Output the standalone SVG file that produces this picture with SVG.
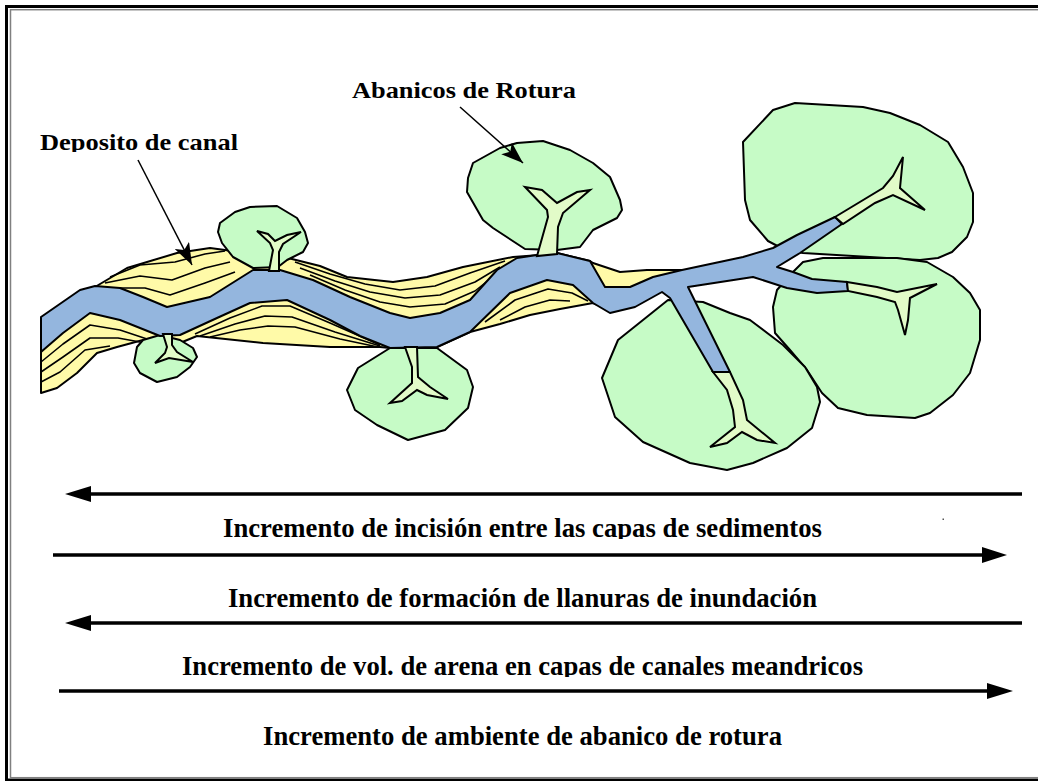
<svg xmlns="http://www.w3.org/2000/svg" width="1038" height="781" viewBox="0 0 1038 781">
<defs>
<style>
.fan{fill:#c6fbc6;stroke:#000;stroke-width:2;stroke-linejoin:round}
.dist{fill:#e2fbc8;stroke:#000;stroke-width:2;stroke-linejoin:miter}
.sand{fill:#fffaa8;stroke:#000;stroke-width:2;stroke-linejoin:round}
.layer{fill:none;stroke:#000;stroke-width:1.6;stroke-linejoin:round}
.chan{fill:#94b6de;stroke:#000;stroke-width:2;stroke-linejoin:round}
.lbl{font-family:"Liberation Serif","Times New Roman",serif;font-weight:bold;fill:#000}
.big{font-size:26.7px}
.small{font-size:24px}
.bar{stroke:#000;stroke-width:3.5;fill:none}
.lead{stroke:#000;stroke-width:1.5;fill:none}
.head{fill:#000}
</style>
<marker id="lhead" markerUnits="userSpaceOnUse" markerWidth="24" markerHeight="16" refX="22" refY="8" orient="auto">
<path d="M0,0 L22,8 L0,16 L5,8 Z" fill="#000"/>
</marker>
<clipPath id="c1"><rect x="0" y="500" width="1038" height="39"/></clipPath>
<clipPath id="c3"><rect x="0" y="640" width="1038" height="37"/></clipPath>
<clipPath id="c0"><rect x="0" y="120" width="400" height="32"/></clipPath>
</defs>

<g id="frame">
<rect x="6.5" y="6.5" width="1100" height="773.5" fill="none" stroke="#000" stroke-width="3"/>
<rect x="10.5" y="9.7" width="1100" height="768" fill="none" stroke="#808080" stroke-width="1.5"/>
<rect x="942.5" y="518.5" width="1.5" height="1.5" fill="#555"/>
</g>

<g id="deposito-canal">
<path class="sand" d="M95,287 L127,268 L177,253 L210,248 L240,252 L265,262 L288,258 L320,266 L347,277 L393,282 L427,277 L463,267 L513,257 L540,255 L557,253 L590,261 L593,263 L620,272 L647,270 L682,270 L690,282 L662,290 L640,300 L610,310 L593,303 L560,309 L530,315 L500,324 L470,332 L437,347 L390,348 L380,347 L330,347 L263,343 L197,336 L175,345 L160,345 L143,340 L117,347 L97,353 L77,373 L57,388 L41,393 L41,345 L90,300 Z"/>
<polyline class="layer" points="110,277 140,265 175,262 205,254 225,251"/>
<polyline class="layer" points="105,283 140,276 172,280 205,268 230,262"/>
<polyline class="layer" points="115,288 145,288 170,295 205,283 235,272"/>
<polyline class="layer" points="41,362 63,344 90,325 120,330 150,340"/>
<polyline class="layer" points="41,372 63,357 90,338 118,338 140,342"/>
<polyline class="layer" points="41,382 60,372 85,350 110,346"/>
<polyline class="layer" points="195,334 230,318 262,306 290,306 330,323 380,345"/>
<polyline class="layer" points="200,336 235,324 265,316 292,317 335,332 380,346"/>
<polyline class="layer" points="210,337 240,330 268,326 295,327 340,339 378,347"/>
<polyline class="layer" points="295,262 330,274 365,284 400,290 435,286 470,273 505,261"/>
<polyline class="layer" points="300,268 335,281 370,292 405,298 440,295 475,282 500,267"/>
<polyline class="layer" points="310,275 345,290 380,302 410,307 445,304 475,291 495,275"/>
<polyline class="layer" points="485,322 515,300 548,289 572,293 588,301"/>
<polyline class="layer" points="500,320 525,307 550,300 570,301"/>
</g>

<g id="abanico-f">
<path class="fan" d="M743,142 L773,110 L795,103 L863,107 L890,113 L920,125 L948,142 L963,167 L973,193 L973,222 L967,237 L952,252 L938,258 L920,260 L803,253 L785,250 L768,241 L750,220 L745,200 Z"/>
</g>
<g id="abanico-g">
<path class="fan" d="M790,275 L803,262 L823,258 L897,258 L927,262 L953,277 L970,293 L980,310 L980,340 L970,373 L953,395 L930,413 L915,418 L867,415 L838,408 L822,393 L807,370 L790,350 L775,333 L773,307 L777,290 Z"/>
</g>
<g id="abanico-e">
<path class="fan" d="M668,300 L618,340 L602,378 L615,417 L643,442 L690,463 L727,470 L753,463 L787,448 L812,428 L820,402 L817,387 L805,367 L783,345 L750,320 L730,313 L703,302 Z"/>
</g>
<g id="abanico-a">
<path class="fan" d="M220,223 L235,212 L250,207 L277,206 L297,218 L305,232 L308,243 L303,252 L287,260 L278,267 L253,268 L233,257 L222,243 L218,232 Z"/>
</g>
<g id="abanico-b">
<path class="fan" d="M143,340 L160,335 L180,340 L193,348 L197,357 L190,367 L177,377 L157,382 L140,373 L134,363 L137,347 Z"/>
</g>
<g id="abanico-c">
<path class="fan" d="M390,348 L358,368 L347,390 L355,410 L377,425 L408,440 L445,430 L468,408 L473,387 L467,370 L437,348 Z"/>
</g>
<g id="abanico-d">
<path class="fan" d="M473,163 L500,148 L517,143 L543,141 L570,150 L593,163 L610,177 L620,200 L622,210 L617,218 L593,230 L580,247 L557,250 L525,249 L493,228 L483,220 L467,192 L468,178 Z"/>
</g>

<g id="canal">
<path class="chan" d="M41,317 L80,290 L95,286 L120,288 L143,297 L167,307 L210,297 L253,270 L280,270 L313,280 L350,297 L390,313 L410,318 L440,313 L470,300 L497,270 L517,258 L537,255 L557,253 L590,261 L605,287 L630,287 L653,277 L682,270 L743,257 L773,248 L797,235 L835,217 L842,224 L800,253 L777,267 L793,272 L812,279 L847,282 L848,291 L817,293 L787,288 L753,277 L688,287 L730,372 L713,372 L670,298 L662,292 L635,307 L610,313 L593,303 L573,285 L547,280 L510,293 L470,332 L437,347 L390,348 L360,336 L330,320 L287,300 L250,303 L217,318 L180,335 L160,336 L120,320 L90,313 L63,333 L41,352 Z"/>
</g>

<g id="distributarios">
<path class="dist" d="M269,271 L273,250 L270,243 L257,231 L268,234 L275,241 L287,235 L301,232 L283,244 L279,252 L279,271 Z"/>
<path class="dist" d="M163,334 L167,347 L165,353 L155,363 L169,358 L193,362 L177,352 L172,345 L172,334 Z"/>
<path class="dist" d="M405,347 L412,367 L412,383 L390,403 L402,401 L417,390 L427,395 L448,399 L430,387 L418,377 L417,347 Z"/>
<path class="dist" d="M537,256 L548,217 L547,210 L525,187 L542,190 L557,203 L577,192 L590,190 L563,213 L558,227 L557,254 Z"/>
<path class="dist" d="M713,372 L727,390 L733,410 L735,427 L710,447 L727,443 L742,432 L757,440 L775,443 L747,420 L743,400 L730,372 Z"/>
<path class="dist" d="M835,217 L883,188 L893,176 L903,157 L900,188 L925,210 L893,195 L875,203 L843,224 Z"/>
<path class="dist" d="M847,282 L877,287 L897,292 L937,284 L910,298 L908,320 L905,335 L898,310 L895,302 L877,297 L848,291 Z"/>
</g>

<g id="etiquetas">
<text class="lbl small" x="352" y="98" textLength="224" lengthAdjust="spacingAndGlyphs">Abanicos de Rotura</text>
<text class="lbl small" x="40" y="150" textLength="198" lengthAdjust="spacingAndGlyphs" clip-path="url(#c0)">Deposito de canal</text>
</g>

<g id="conectores">
<line class="lead" x1="460" y1="107" x2="523" y2="163" marker-end="url(#lhead)"/>
<line class="lead" x1="138" y1="160" x2="192" y2="265" marker-end="url(#lhead)"/>
<line class="bar" x1="89" y1="494" x2="1022" y2="494"/>
<polygon class="head" points="65,494 91,486 91,502"/>
<line class="bar" x1="53" y1="555" x2="984" y2="555"/>
<polygon class="head" points="1007,555 982,547 982,563"/>
<line class="bar" x1="89" y1="623" x2="1022" y2="623"/>
<polygon class="head" points="65,623 91,615 91,631"/>
<line class="bar" x1="59" y1="691" x2="989" y2="691"/>
<polygon class="head" points="1013,691 987,683 987,699"/>
</g>

<g id="textos">
<text class="lbl big" x="223" y="537" textLength="599" lengthAdjust="spacingAndGlyphs" clip-path="url(#c1)">Incremento de incisión entre las capas de sedimentos</text>
<text class="lbl big" x="228" y="607" textLength="589" lengthAdjust="spacingAndGlyphs">Incremento de formación de llanuras de inundación</text>
<text class="lbl big" x="182" y="675" textLength="681" lengthAdjust="spacingAndGlyphs" clip-path="url(#c3)">Incremento de vol. de arena en capas de canales meandricos</text>
<text class="lbl big" x="263" y="745" textLength="519" lengthAdjust="spacingAndGlyphs">Incremento de ambiente de abanico de rotura</text>
</g>
</svg>
